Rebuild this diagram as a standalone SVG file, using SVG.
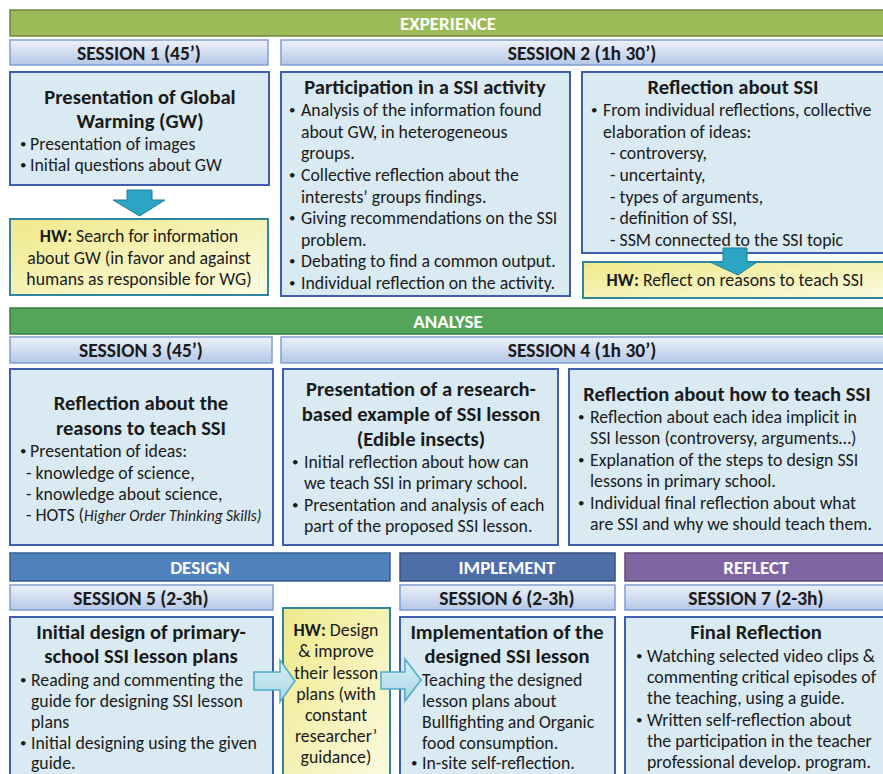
<svg xmlns="http://www.w3.org/2000/svg" width="883" height="774" viewBox="0 0 883 774">
<defs>
<linearGradient id="hdr" x1="0" y1="0" x2="0" y2="1"><stop offset="0" stop-color="#eef2fa"/><stop offset="1" stop-color="#b4c7e7"/></linearGradient>
<linearGradient id="hw" x1="0" y1="0" x2="1" y2="1"><stop offset="0" stop-color="#efe98a"/><stop offset="1" stop-color="#fbfbe2"/></linearGradient>
<linearGradient id="rarr" x1="0" y1="0" x2="0" y2="1"><stop offset="0" stop-color="#d7eef5"/><stop offset="1" stop-color="#a9d8e6"/></linearGradient>
<style>
text{font-family:Carlito,Lato,"Liberation Sans",sans-serif;fill:#1a1a1a}
.bart{fill:#fff;font-weight:bold;font-size:19px;text-anchor:middle}
.hdr{fill:url(#hdr);stroke:#7f9fd2;stroke-width:1.5}
.ht{font-weight:bold;font-size:19.5px;text-anchor:middle}
.box{fill:#d9eaf2;stroke:#3f5fae;stroke-width:2}
.hwb{fill:url(#hw);stroke:#31859c;stroke-width:2}
.tt{font-weight:bold;font-size:20.6px;text-anchor:middle}
.b{font-size:17.8px}
.b .bu,.bu{font-size:13px}
.c{text-anchor:middle}
.darr{fill:#2ba5c3;stroke:#1e7f98;stroke-width:1}
.rarr{fill:url(#rarr);stroke:#4bacc6;stroke-width:1.5}
</style>
</defs>
<rect width="883" height="774" fill="#fff"/>

<g id="bar-experience"><rect x="10" y="10" width="880" height="26" fill="#9bbb59" stroke="#72893f" stroke-width="1.5"/><text class="bart" x="448" y="30">EXPERIENCE</text></g>
<g id="hdr-s1"><rect class="hdr" x="10" y="40" width="258" height="25"/><text class="ht" x="139" y="59.5">SESSION 1 (45’)</text></g>
<g id="hdr-s2"><rect class="hdr" x="281" y="40" width="610" height="25"/><text class="ht" x="582" y="59.5">SESSION 2 (1h 30’)</text></g>

<g id="node-gw"><rect class="box" x="10" y="72" width="259" height="113"/>
<text class="tt" x="140" y="104">Presentation of Global</text>
<text class="tt" x="140" y="128">Warming (GW)</text>
<g class="b">
<text class="bu" x="20" y="148">•</text><text x="30" y="150">Presentation of images</text>
<text class="bu" x="20" y="169">•</text><text x="30" y="171">Initial questions about GW</text>
</g></g>

<g id="node-hw1"><rect class="hwb" x="10" y="219" width="258" height="76"/>
<text class="b c" x="139" y="242"><tspan font-weight="bold">HW:</tspan> Search for information</text>
<text class="b c" x="139" y="264">about GW (in favor and against</text>
<text class="b c" x="139" y="285">humans as responsible for WG)</text></g>

<g id="node-ssi-activity"><rect class="box" x="281" y="72" width="289" height="224"/>
<text class="tt" x="425" y="94">Participation in a SSI activity</text>
<g class="b">
<text class="bu" x="289" y="114">•</text><text x="301" y="116">Analysis of the information found</text>
<text x="301" y="138">about GW, in heterogeneous</text>
<text x="301" y="159">groups.</text>
<text class="bu" x="289" y="179">•</text><text x="301" y="181">Collective reflection about the</text>
<text x="301" y="203">interests’ groups findings.</text>
<text class="bu" x="289" y="222">•</text><text x="301" y="224">Giving recommendations on the SSI</text>
<text x="301" y="246">problem.</text>
<text class="bu" x="289" y="265">•</text><text x="301" y="267">Debating to find a common output.</text>
<text class="bu" x="289" y="287">•</text><text x="301" y="289">Individual reflection on the activity.</text>
</g></g>

<g id="node-reflection-ssi"><rect class="box" x="582" y="72" width="308" height="181"/>
<text class="tt" x="733" y="94">Reflection about SSI</text>
<g class="b">
<text class="bu" x="591" y="114">•</text><text x="603" y="116">From individual reflections, collective</text>
<text x="603" y="138">elaboration of ideas:</text>
<text x="610" y="159">- controversy,</text>
<text x="610" y="181">- uncertainty,</text>
<text x="610" y="203">- types of arguments,</text>
<text x="610" y="224">- definition of SSI,</text>
<text x="610" y="246">- SSM connected to the SSI topic</text>
</g></g>

<g id="node-hw2"><rect class="hwb" x="583" y="262" width="307" height="36"/>
<text class="b c" x="735" y="286"><tspan font-weight="bold">HW:</tspan> Reflect on reasons to teach SSI</text></g>

<g id="bar-analyse"><rect x="10" y="308" width="880" height="26" fill="#55a65b" stroke="#3b7e3f" stroke-width="1.5"/><text class="bart" x="448" y="328">ANALYSE</text></g>
<g id="hdr-s3"><rect class="hdr" x="10" y="337" width="262" height="26"/><text class="ht" x="141" y="357">SESSION 3 (45’)</text></g>
<g id="hdr-s4"><rect class="hdr" x="281" y="337" width="610" height="26"/><text class="ht" x="582" y="357">SESSION 4 (1h 30’)</text></g>

<g id="node-reasons"><rect class="box" x="10" y="369" width="263" height="176"/>
<text class="tt" x="141" y="410">Reflection about the</text>
<text class="tt" x="141" y="435">reasons to teach SSI</text>
<g class="b">
<text class="bu" x="20" y="455">•</text><text x="30" y="457">Presentation of ideas:</text>
<text x="26" y="479">- knowledge of science,</text>
<text x="26" y="500">- knowledge about science,</text>
<text x="26" y="521">- HOTS (<tspan font-style="italic" font-size="15.5px">Higher Order Thinking Skills)</tspan></text>
</g></g>

<g id="node-example"><rect class="box" x="283" y="369" width="275" height="176"/>
<text class="tt" x="421" y="396">Presentation of a research-</text>
<text class="tt" x="421" y="421">based example of SSI lesson</text>
<text class="tt" x="421" y="446">(Edible insects)</text>
<g class="b">
<text class="bu" x="292" y="466">•</text><text x="304" y="468">Initial reflection about how can</text>
<text x="304" y="489">we teach SSI in primary school.</text>
<text class="bu" x="292" y="509">•</text><text x="304" y="511">Presentation and analysis of each</text>
<text x="304" y="532">part of the proposed SSI lesson.</text>
</g></g>

<g id="node-howto"><rect class="box" x="569" y="369" width="321" height="176"/>
<text class="tt" x="727" y="401">Reflection about how to teach SSI</text>
<g class="b">
<text class="bu" x="578" y="421">•</text><text x="590" y="423">Reflection about each idea implicit in</text>
<text x="590" y="444">SSI lesson (controversy, arguments…)</text>
<text class="bu" x="578" y="464">•</text><text x="590" y="466">Explanation of the steps to design SSI</text>
<text x="590" y="487">lessons in primary school.</text>
<text class="bu" x="578" y="507">•</text><text x="590" y="509">Individual final reflection about what</text>
<text x="590" y="530">are SSI and why we should teach them.</text>
</g></g>

<g id="bar-design"><rect x="10" y="553" width="380" height="28" fill="#4f81bd" stroke="#385d8a" stroke-width="1.5"/><text class="bart" x="200" y="574">DESIGN</text></g>
<g id="bar-implement"><rect x="400" y="553" width="215" height="28" fill="#4d6ea6" stroke="#34507f" stroke-width="1.5"/><text class="bart" x="507" y="574">IMPLEMENT</text></g>
<g id="bar-reflect"><rect x="625" y="553" width="265" height="28" fill="#8064a2" stroke="#5c4776" stroke-width="1.5"/><text class="bart" x="756" y="574">REFLECT</text></g>
<g id="hdr-s5"><rect class="hdr" x="10" y="585" width="263" height="25"/><text class="ht" x="141" y="604.5">SESSION 5 (2-3h)</text></g>
<g id="hdr-s6"><rect class="hdr" x="400" y="585" width="215" height="25"/><text class="ht" x="507" y="604.5">SESSION 6 (2-3h)</text></g>
<g id="hdr-s7"><rect class="hdr" x="625" y="585" width="265" height="25"/><text class="ht" x="756" y="604.5">SESSION 7 (2-3h)</text></g>

<g id="node-initial-design"><rect class="box" x="10" y="617" width="263" height="170"/>
<text class="tt" x="141" y="639">Initial design of primary-</text>
<text class="tt" x="141" y="663">school SSI lesson plans</text>
<g class="b">
<text class="bu" x="20" y="684">•</text><text x="31" y="686">Reading and commenting the</text>
<text x="31" y="707">guide for designing SSI lesson</text>
<text x="31" y="728">plans</text>
<text class="bu" x="20" y="747">•</text><text x="31" y="749">Initial designing using the given</text>
<text x="31" y="769">guide.</text>
</g></g>

<g id="node-hw3"><rect class="hwb" x="283" y="608" width="107" height="175"/>
<g class="b c">
<text x="336" y="636"><tspan font-weight="bold">HW:</tspan> Design</text>
<text x="336" y="657">&amp; improve</text>
<text x="336" y="679">their lesson</text>
<text x="336" y="700">plans (with</text>
<text x="336" y="721">constant</text>
<text x="336" y="742">researcher’</text>
<text x="336" y="763">guidance)</text>
</g></g>

<g id="node-implementation"><rect class="box" x="400" y="617" width="215" height="170"/>
<text class="tt" x="507" y="639">Implementation of the</text>
<text class="tt" x="507" y="663">designed SSI lesson</text>
<g class="b">
<text x="422" y="686">Teaching the designed</text>
<text x="422" y="707">lesson plans about</text>
<text x="422" y="728">Bullfighting and Organic</text>
<text x="422" y="749">food consumption.</text>
<text class="bu" x="411" y="767">•</text><text x="422" y="769">In-site self-reflection.</text>
</g></g>

<g id="node-final"><rect class="box" x="625" y="617" width="265" height="170"/>
<text class="tt" x="756" y="639">Final Reflection</text>
<g class="b">
<text class="bu" x="636" y="660">•</text><text x="647" y="662">Watching selected video clips &amp;</text>
<text x="647" y="683">commenting critical episodes of</text>
<text x="647" y="704">the teaching, using a guide.</text>
<text class="bu" x="636" y="724">•</text><text x="647" y="726">Written self-reflection about</text>
<text x="647" y="747">the participation in the teacher</text>
<text x="647" y="768">professional develop. program.</text>
</g></g>

<g id="connectors">
<path class="darr" d="M127 190 H152 V200 H165 L139.5 216 L113 200 H127 Z"/>
<path class="darr" d="M723 248 H747 V262 H757 L738 275 L710 262 H723 Z"/>
<path class="rarr" d="M254 672 H280 V660 L295 681 L280 702 V690 H254 Z"/>
<path class="rarr" d="M381 672 H405 V659 L421 680 L405 701 V689 H381 Z"/>
</g>
</svg>
